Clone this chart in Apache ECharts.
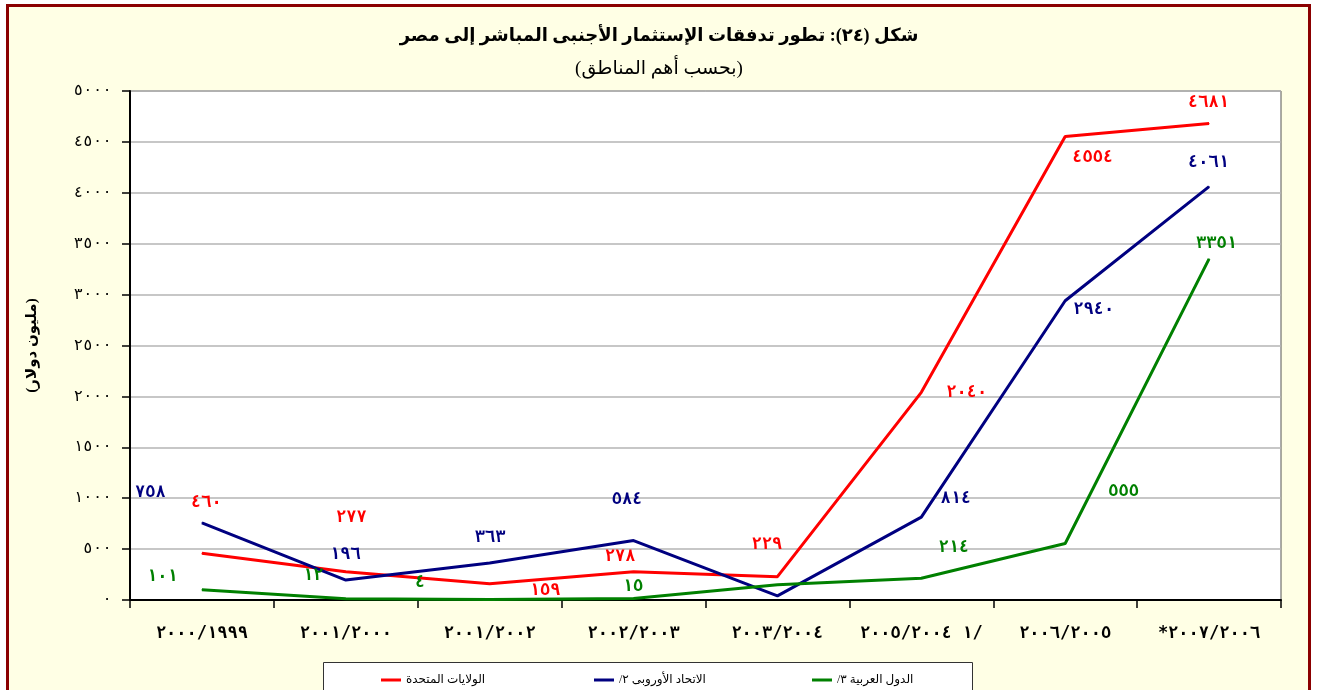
<!DOCTYPE html>
<html>
<head>
<meta charset="utf-8">
<script src="https://cdn.jsdelivr.net/npm/echarts@6/dist/echarts.min.js"></script>
<style>html,body{margin:0;padding:0;background:#fff}#c{width:1318px;height:690px}</style>
</head>
<body>
<div id="c"></div>
<script>
// ---- data ----
const categories = ['٢٠٠٠/١٩٩٩', '٢٠٠١/٢٠٠٠', '٢٠٠١/٢٠٠٢', '٢٠٠٢/٢٠٠٣', '٢٠٠٣/٢٠٠٤', '٢٠٠٥/٢٠٠٤\u200E ١/', '٢٠٠٦/٢٠٠٥', '*٢٠٠٧/٢٠٠٦'];
const seriesNames = ['الولايات المتحدة', '\u202Bالاتحاد الأوروبى ٢/\u202C', '\u202Bالدول العربية ٣/\u202C'];
const usValues = [460, 277, 159, 278, 229, 2040, 4554, 4681];
const euValues = [758, 196, 363, 584, 40, 814, 2940, 4061];
const arabValues = [101, 12, 4, 15, 150, 214, 555, 3351];
const yTicks = [0, 500, 1000, 1500, 2000, 2500, 3000, 3500, 4000, 4500, 5000];

// label placement (pixel offsets from each point; null = no label)
const usLabelPos = [[5,-50],[6,-54],[56,7],[-13,-15],[-10,-32],[46,1],[28,22],[0,-20]];
const euLabelPos = [[-51,-30],[0,-25],[1,-25],[-6,-40],null,[35,-18],[29,9],[0,-24]];
const arabLabelPos = [[-39,-13],[-32,-23],[-69,-17],[0,-11],null,[33,-30],[59,-51],[8,-15]];

const colors = ['#FF0000', '#000080', '#008000'];
const arDigits = '٠١٢٣٤٥٦٧٨٩';
function toAr(n) { return String(n).replace(/[0-9]/g, d => arDigits[+d]); }

const FONT = '"Liberation Serif", "DejaVu Sans", serif';
const NUMFONT = '"DejaVu Sans Mono", "DejaVu Sans", monospace';

function buildSeries(name, values, pos, color) {
  return {
    name: name,
    type: 'line',
    data: values.map((v, i) => ({
      value: v,
      label: pos[i] ? { show: true, position: pos[i] } : { show: false }
    })),
    symbol: 'circle',
    symbolSize: 1,
    showSymbol: true,
    lineStyle: { color: color, width: 3 },
    itemStyle: { color: color },
    label: {
      show: true,
      color: color,
      fontWeight: 'bold',
      fontSize: 17,
      fontFamily: NUMFONT,
      align: 'center',
      verticalAlign: 'middle',
      formatter: p => toAr(p.value)
    },
    emphasis: { disabled: true },
    animation: false,
    z: 3
  };
}

const chart = echarts.init(document.getElementById('c'), null, { renderer: 'canvas' });

function legendAt(name, left) {
  return {
    data: [name],
    left: left,
    top: 669,
    icon: 'rect',
    itemWidth: 20,
    itemHeight: 3,
    itemGap: 4,
    textStyle: { fontSize: 12, color: '#000', fontFamily: FONT },
    selectedMode: false
  };
}

chart.setOption({
  backgroundColor: '#ffffff',
  animation: false,
  title: [
    { text: 'شكل (٢٤): تطور تدفقات الإستثمار الأجنبى المباشر إلى مصر', left: 'center', top: 22,
      textStyle: { fontSize: 18, fontWeight: 'bold', color: '#000', fontFamily: FONT } },
    { text: '(بحسب أهم المناطق)', left: 'center', top: 55,
      textStyle: { fontSize: 19, fontWeight: 'normal', color: '#000', fontFamily: FONT } }
  ],
  graphic: [
    { type: 'rect', z: -10, shape: { x: 7.5, y: 5.5, width: 1302, height: 700 },
      style: { fill: '#FFFFE5', stroke: '#8B0000', lineWidth: 3 } },
    { type: 'rect', z: 0, shape: { x: 323.5, y: 662.5, width: 649, height: 40 },
      style: { fill: '#ffffff', stroke: '#333333', lineWidth: 1 } }
  ],
  legend: [
    legendAt(seriesNames[0], 376),
    legendAt(seriesNames[1], 589),
    legendAt(seriesNames[2], 807)
  ],
  grid: {
    left: 130, right: 37, top: 91, bottom: 90,
    show: true, backgroundColor: '#ffffff', borderColor: '#555555', borderWidth: 1
  },
  xAxis: {
    type: 'category',
    data: categories,
    boundaryGap: true,
    axisLine: { lineStyle: { color: '#000', width: 2 } },
    axisTick: { show: true, interval: 0, length: 8, lineStyle: { color: '#000', width: 1.5 } },
    axisLabel: { interval: 0, margin: 25, fontSize: 17, fontWeight: 'bold', color: '#000', fontFamily: NUMFONT }
  },
  yAxis: {
    type: 'value',
    min: yTicks[0],
    max: yTicks[yTicks.length - 1],
    interval: 500,
    name: '(مليون دولار)',
    nameLocation: 'middle',
    nameRotate: 90,
    nameGap: 90,
    nameTextStyle: { fontSize: 15, fontWeight: 'bold', color: '#000', fontFamily: FONT },
    axisLine: { show: true, lineStyle: { color: '#000', width: 2 } },
    axisTick: { show: true, length: 8, lineStyle: { color: '#000', width: 1.5 } },
    axisLabel: { margin: 18, fontSize: 16, color: '#000', fontFamily: NUMFONT, formatter: v => toAr(v) },
    splitLine: { show: true, lineStyle: { color: '#b4b4b4', width: 1.5 } }
  },
  series: [
    buildSeries(seriesNames[0], usValues, usLabelPos, colors[0]),
    buildSeries(seriesNames[1], euValues, euLabelPos, colors[1]),
    buildSeries(seriesNames[2], arabValues, arabLabelPos, colors[2])
  ]
});
</script>
</body>
</html>
